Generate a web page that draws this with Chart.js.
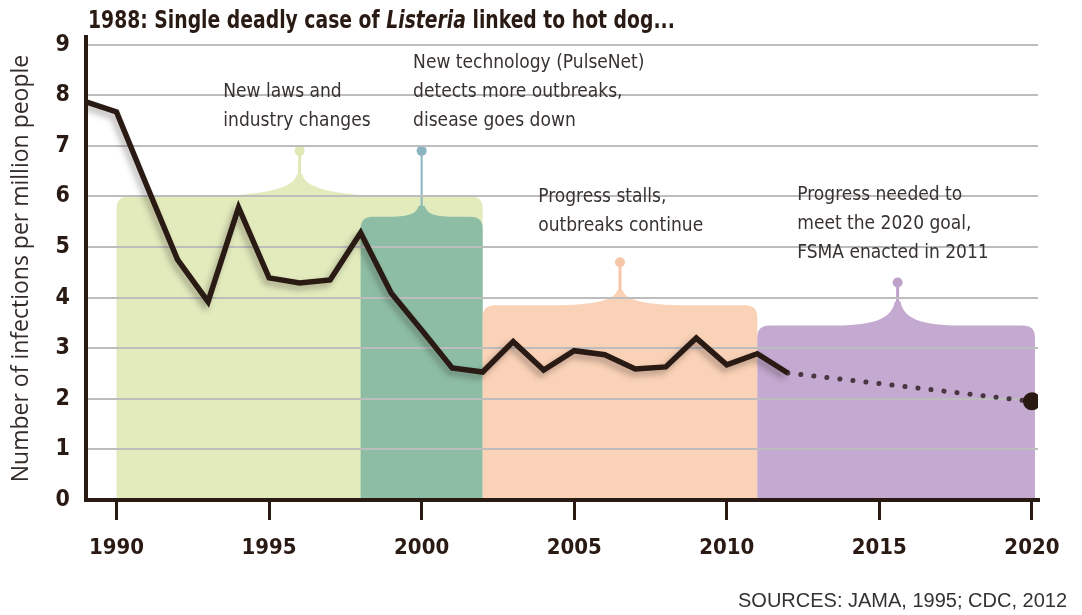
<!DOCTYPE html>
<html>
<head>
<meta charset="utf-8">
<script src="https://cdn.jsdelivr.net/npm/chart.js@4.4.1/dist/chart.umd.min.js"></script>
<style>
  html, body { margin: 0; padding: 0; background: #fff; }
  #wrap { width: 1082px; height: 615px; position: relative; }
</style>
</head>
<body>
<div id="wrap"><canvas id="listeria" width="1082" height="615"></canvas></div>
<script>
// listeria infections per million people, 1989-2012
const years = [1989, 1990, 1991, 1992, 1993, 1994, 1995, 1996, 1997, 1998, 1999, 2000,
  2001, 2002, 2003, 2004, 2005, 2006, 2007, 2008, 2009, 2010, 2011, 2012];
const infections = [7.87, 7.67, 6.2, 4.75, 3.92, 5.78, 4.39, 4.29, 4.35, 5.28, 4.09, 3.36,
  2.61, 2.53, 3.13, 2.57, 2.95, 2.87, 2.59, 2.63, 3.2, 2.67, 2.89, 2.51];

// projection to the 2020 goal
const goalYears = [2012, 2020];
const goalValues = [2.51, 1.95];

const xTicks = [1990, 1995, 2000, 2005, 2010, 2015, 2020];
const yTicks = [0, 1, 2, 3, 4, 5, 6, 7, 8, 9];

// shaded periods
const periodStart = [1990, 1998, 2002, 2011];
const periodEnd = [2002, 2002, 2011, 2020.1];
const periodLevel = [6, 5.6, 3.85, 3.45];
const periodPinYear = [1996, 2000, 2006.5, 2015.6];
const periodPinLevel = [6.9, 6.9, 4.7, 4.3];

const DARK = '#2a1a14';
const NARROW = "'Liberation Sans Narrow', 'DejaVu Sans Condensed', sans-serif";

const periodStyle = [
  { fill: '#e3ebbd', pin: '#e0e8b6', bumpH: 22, bumpW: 110, stem: 3 },
  { fill: '#8dbea5', pin: '#8ab4bf', bumpH: 11, bumpW: 32, stem: 2 },
  { fill: '#fad2b7', pin: '#f6c6a8', bumpH: 15, bumpW: 70, stem: 3 },
  { fill: '#c4a9d0', pin: '#bea1cb', bumpH: 24, bumpW: 62, stem: 3 }
];

const notes = [
  { year: 1993.5, value: 8.06, lines: ['New laws and', 'industry changes'] },
  { year: 1999.72, value: 8.64, lines: ['New technology (PulseNet)', 'detects more outbreaks,', 'disease goes down'] },
  { year: 2003.82, value: 5.99, lines: ['Progress stalls,', 'outbreaks continue'] },
  { year: 2012.31, value: 6.03, lines: ['Progress needed to', 'meet the 2020 goal,', 'FSMA enacted in 2011'] }
];

function bracket(ctx, x0, x1, top, bottom, cx, st) {
  const r = 12, h = st.bumpH, w = st.bumpW;
  ctx.beginPath();
  ctx.moveTo(x0, bottom);
  ctx.lineTo(x0, top + r);
  ctx.quadraticCurveTo(x0, top, x0 + r, top);
  ctx.lineTo(cx - w, top);
  ctx.bezierCurveTo(cx - w * 0.3, top, cx - 5, top - h * 0.4, cx - 3, top - h);
  ctx.lineTo(cx + 3, top - h);
  ctx.bezierCurveTo(cx + 5, top - h * 0.4, cx + w * 0.3, top, cx + w, top);
  ctx.lineTo(x1 - r, top);
  ctx.quadraticCurveTo(x1, top, x1, top + r);
  ctx.lineTo(x1, bottom);
  ctx.closePath();
  ctx.fillStyle = st.fill;
  ctx.fill();
}

const periodsPlugin = {
  id: 'periods',
  beforeDraw(chart) {
    const { ctx, scales: { x, y } } = chart;
    const bottom = y.getPixelForValue(0);
    ctx.save();
    periodStart.forEach((s, i) => {
      const st = periodStyle[i];
      const x0 = x.getPixelForValue(s), x1 = x.getPixelForValue(periodEnd[i]);
      const top = y.getPixelForValue(periodLevel[i]);
      const cx = x.getPixelForValue(periodPinYear[i]);
      const pinY = y.getPixelForValue(periodPinLevel[i]);
      bracket(ctx, x0, x1, top, bottom, cx, st);
      ctx.strokeStyle = st.pin;
      ctx.lineWidth = st.stem;
      ctx.beginPath();
      ctx.moveTo(cx, top - st.bumpH + 1);
      ctx.lineTo(cx, pinY);
      ctx.stroke();
      ctx.fillStyle = st.pin;
      ctx.beginPath();
      ctx.arc(cx, pinY, 5, 0, Math.PI * 2);
      ctx.fill();
    });
    ctx.restore();
  },
  beforeDatasetDraw(chart, args) {
    if (args.index !== 0) return;
    const ctx = chart.ctx;
    ctx.save();
    ctx.shadowColor = 'rgba(40,30,30,0.35)';
    ctx.shadowBlur = 6;
    ctx.shadowOffsetX = -3;
    ctx.shadowOffsetY = 4;
  },
  afterDatasetDraw(chart, args) {
    if (args.index === 0) chart.ctx.restore();
  },
  afterDraw(chart) {
    const { ctx, scales: { x, y } } = chart;
    ctx.save();
    // headline, squeezed a little to read as a condensed face
    ctx.fillStyle = DARK;
    ctx.textBaseline = 'middle';
    ctx.textAlign = 'left';
    ctx.save();
    ctx.translate(88, 22);
    ctx.scale(0.87, 1);
    let tx = 0;
    const parts = [['bold', '1988: Single deadly case of '], ['italic bold', 'Listeria'], ['bold', ' linked to hot dog...']];
    parts.forEach(([w, t]) => {
      ctx.font = w + ' 24px ' + NARROW;
      ctx.fillText(t, tx, 0);
      tx += ctx.measureText(t).width;
    });
    ctx.restore();
    // period notes
    ctx.fillStyle = '#383330';
    ctx.font = '19px ' + NARROW;
    notes.forEach(n => {
      const nx = x.getPixelForValue(n.year), ny = y.getPixelForValue(n.value);
      n.lines.forEach((l, k) => ctx.fillText(l, nx, ny + k * 29));
    });
    // sources
    ctx.fillStyle = '#333';
    ctx.font = '20px "Liberation Sans", Arial, sans-serif';
    ctx.textAlign = 'right';
    ctx.fillText('SOURCES: JAMA, 1995; CDC, 2012', 1067, 601);
    ctx.restore();
  }
};

new Chart(document.getElementById('listeria'), {
  type: 'line',
  data: {
    datasets: [
      {
        data: years.map((yr, i) => ({ x: yr, y: infections[i] })),
        borderColor: DARK,
        borderWidth: 5.5,
        borderJoinStyle: 'miter',
        pointRadius: 0,
        tension: 0
      },
      {
        data: goalYears.map((yr, i) => ({ x: yr, y: goalValues[i] })),
        borderColor: 'rgba(50,34,40,0.85)',
        borderWidth: 5,
        borderDash: [0.1, 13],
        borderCapStyle: 'round',
        pointRadius: goalYears.map((_, i) => i === goalYears.length - 1 ? 9 : 0),
        pointBackgroundColor: DARK,
        pointBorderWidth: 0,
        tension: 0
      }
    ]
  },
  options: {
    responsive: false,
    animation: false,
    devicePixelRatio: 1,
    layout: { padding: { top: 37, right: 44, left: 0, bottom: 0 } },
    plugins: { legend: { display: false }, tooltip: { enabled: false }, title: { display: false } },
    scales: {
      x: {
        type: 'linear',
        min: 1989,
        max: 2020.2,
        afterBuildTicks: s => { s.ticks = xTicks.map(v => ({ value: v })); },
        afterFit: s => { s.height = 115; },
        border: { display: true, color: DARK, width: 4 },
        grid: { drawOnChartArea: false, drawTicks: true, tickLength: 20, color: DARK, lineWidth: 3 },
        ticks: {
          padding: 15,
          color: DARK,
          font: { family: NARROW, size: 22, weight: 'bold' },
          callback: v => String(v)
        }
      },
      y: {
        min: 0,
        max: 9.15,
        afterBuildTicks: s => { s.ticks = yTicks.map(v => ({ value: v })); },
        afterFit: s => { s.width = 86; },
        border: { display: true, color: DARK, width: 4 },
        grid: { color: '#bdbdbd', lineWidth: 2, drawTicks: false },
        ticks: {
          padding: 16,
          color: DARK,
          font: { family: NARROW, size: 23, weight: 'bold' }
        },
        title: {
          display: true,
          text: 'Number of infections per million people',
          color: '#332d2a',
          font: { family: "'Open Sans', 'Liberation Sans', sans-serif", size: 23 },
          padding: { top: 8, bottom: 0 }
        }
      }
    }
  },
  plugins: [periodsPlugin]
});
</script>
</body>
</html>
